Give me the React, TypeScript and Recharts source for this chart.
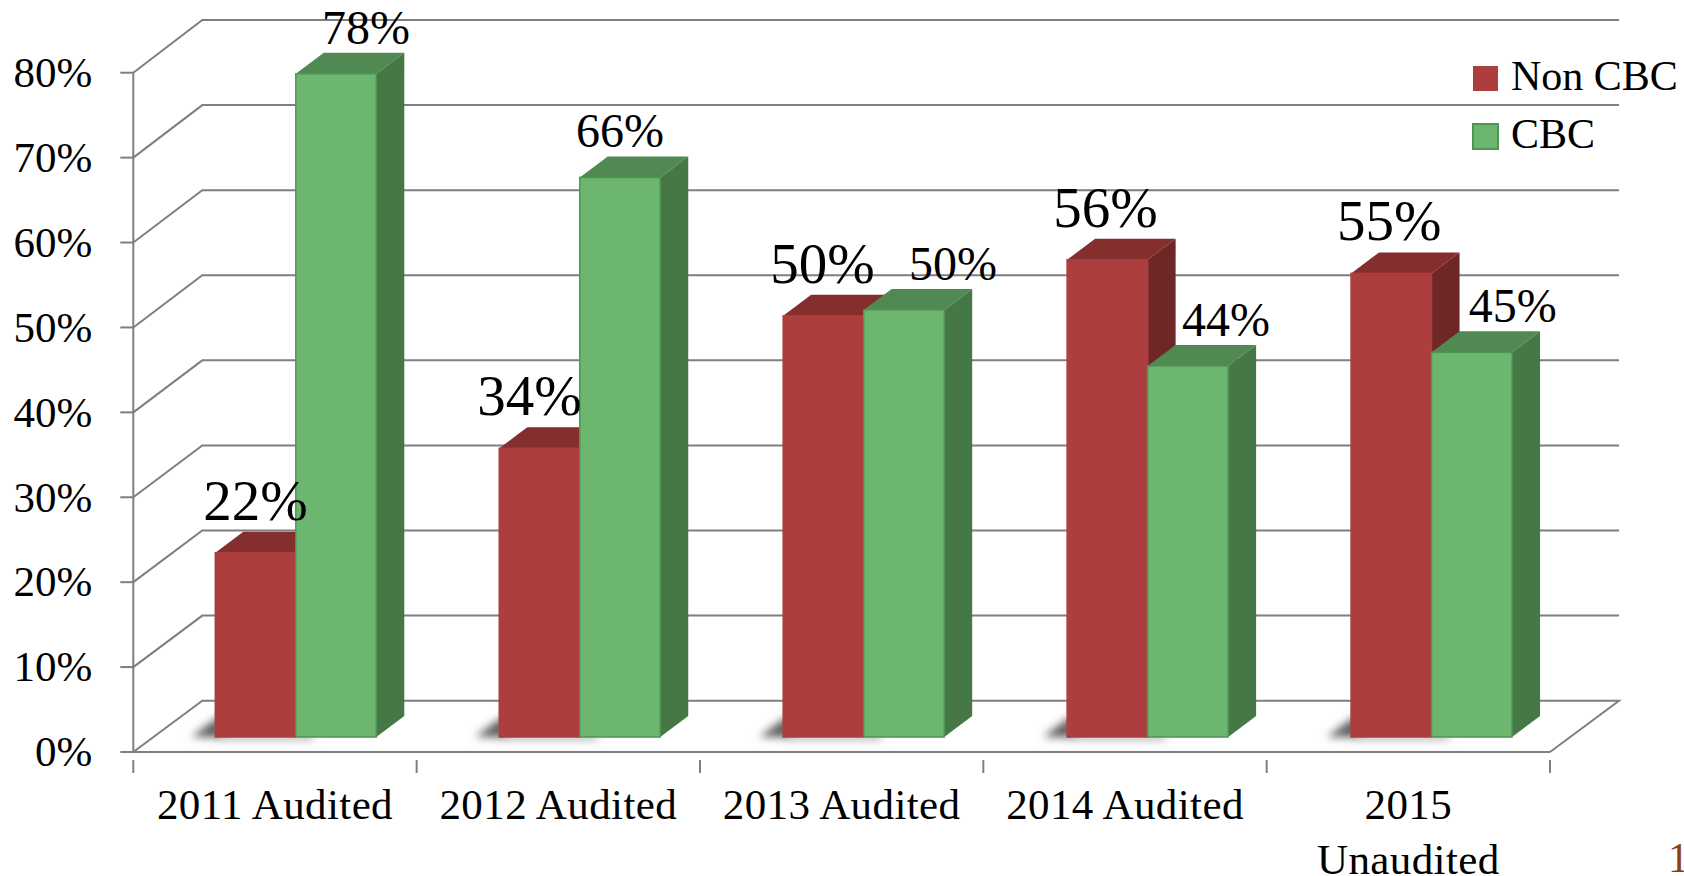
import React from "react";
import { BarChart, Bar, XAxis, YAxis, CartesianGrid, Legend, LabelList } from "recharts";

const categories = ["2011 Audited", "2012 Audited", "2013 Audited", "2014 Audited", "2015\nUnaudited"];
const nonCbc = [21.7, 34, 49.6, 56.2, 54.6];
const cbc = [78.1, 65.9, 50.3, 43.7, 45.3];
const yTicks = [0, 10, 20, 30, 40, 50, 60, 70, 80];
const nonCbcLabelShift = [0, -10, -1, -2, -2];
const cbcLabelShift = [30, 0, 49, 38, 41];

const rows = categories.map((category, i) => ({ category, nonCbc: nonCbc[i], cbc: cbc[i] }));

const FONT = "'Liberation Serif', serif";
const GRID = "#7f7f7f";
const BAND = 1416.7 / 5;
const WALL_X = 69;
const BAR_DY = -15;
const DEPTH_X = 28;
const DEPTH_Y = 21;

const barDx = (index: number) => 21 + index * 0.6;
const wallY = (y: number) => 51.3 + (752 - y) * 0.002;

const RED = { front: "#AD3E3E", top: "#852E2E", side: "#6E2626", edge: "#AD3E3E" };
const GREEN = { front: "#6DB66F", top: "#508A52", side: "#467846", edge: "#4F9556" };

function Box(props: any, c: typeof RED, shadow: boolean) {
  const x = props.x + barDx(props.index);
  const y = props.y + BAR_DY;
  const w = props.width;
  const h = props.height;
  const b = y + h;
  return (
    <g>
      {shadow && (
        <g filter="url(#footShadow)">
          <polygon points={`${x - 24},${b} ${x + 6},${b - 22} ${x + 6},${b}`} fill="#5a5a5a" />
          <rect x={x} y={b - 2} width={w + 18} height={4} fill="#8a8a8a" />
        </g>
      )}
      <polygon
        points={`${x},${y} ${x + DEPTH_X},${y - DEPTH_Y} ${x + w + DEPTH_X},${y - DEPTH_Y} ${x + w},${y}`}
        fill={c.top}
      />
      <polygon
        points={`${x + w},${y} ${x + w + DEPTH_X},${y - DEPTH_Y} ${x + w + DEPTH_X},${b - DEPTH_Y} ${x + w},${b}`}
        fill={c.side}
      />
      <rect x={x} y={y} width={w} height={h} fill={c.front} stroke={c.edge} strokeWidth={1.5} />
    </g>
  );
}

function gridLine(props: any) {
  const { x1, x2, y1 } = props;
  const isFloor = Math.abs(y1 - 752) < 1;
  const end = isFloor ? ` L${x2},${y1}` : "";
  const back = y1 - wallY(y1);
  return (
    <path
      key={`g-${y1}`}
      d={`M${x1},${y1} L${x1 + WALL_X},${back} L${x2 + WALL_X},${back}${end}`}
      fill="none"
      stroke={GRID}
      strokeWidth={2}
    />
  );
}

function CategoryTick(props: any) {
  const { x, y, payload, index } = props;
  const lines = String(payload.value).split("\n");
  const left = x - BAND / 2;
  return (
    <g>
      <line x1={left} x2={left} y1={y} y2={y + 13} stroke={GRID} strokeWidth={2} />
      {index === categories.length - 1 && (
        <line x1={left + BAND} x2={left + BAND} y1={y} y2={y + 13} stroke={GRID} strokeWidth={2} />
      )}
      {lines.map((line: string, i: number) => (
        <text key={line} x={x} y={819 + i * 55} textAnchor="middle" fontSize={43} letterSpacing={0.4} fontFamily={FONT} fill="#000">
          {line}
        </text>
      ))}
    </g>
  );
}

function redLabel(props: any) {
  const { x, y, width, value, index } = props;
  return (
    <text
      x={x + barDx(index) + width / 2 + nonCbcLabelShift[index]}
      y={y + BAR_DY - 33}
      textAnchor="middle"
      fontSize={57}
      fontFamily={FONT}
      fill="#000"
    >
      {Math.round(value)}%
    </text>
  );
}

function greenLabel(props: any) {
  const { x, y, width, value, index } = props;
  return (
    <text
      x={x + barDx(index) + width / 2 + cbcLabelShift[index]}
      y={y + BAR_DY - 30}
      textAnchor="middle"
      fontSize={48}
      fontFamily={FONT}
      fill="#000"
    >
      {Math.round(value)}%
    </text>
  );
}

function LegendBox(props: any) {
  const entries = props.payload || [];
  return (
    <div style={{ position: "relative", width: 212, height: 114, fontFamily: FONT, fontSize: 42, color: "#000" }}>
      {entries.map((e: any, i: number) => (
        <div key={e.value}>
          <div
            style={{
              position: "absolute",
              left: i === 0 ? 1 : 0,
              top: i === 0 ? 9 : 66,
              width: i === 0 ? 25 : 23,
              height: i === 0 ? 25 : 23,
              background: e.color,
              border: i === 0 ? "none" : `2px solid ${GREEN.edge}`,
            }}
          />
          <div style={{ position: "absolute", left: 39, top: i === 0 ? -9 : 49, lineHeight: "56px", whiteSpace: "nowrap" }}>
            {e.value}
          </div>
        </div>
      ))}
    </div>
  );
}

export default function App() {
  return (
    <div style={{ position: "absolute", left: 0, top: 0, width: 1684, height: 876, overflow: "hidden", background: "#fff" }}>
      <BarChart
        width={1684}
        height={876}
        data={rows}
        margin={{ top: 72.7, right: 134, bottom: 0, left: 0 }}
        barSize={80.5}
        barGap={0}
        barCategoryGap={0}
      >
        <defs>
          <filter id="footShadow" x="-30%" y="-80%" width="160%" height="260%">
            <feGaussianBlur stdDeviation="4.5" />
          </filter>
        </defs>
        <CartesianGrid vertical={false} horizontal={gridLine} />
        <XAxis
          dataKey="category"
          height={124}
          interval={0}
          axisLine={{ stroke: GRID, strokeWidth: 2 }}
          tickLine={false}
          tick={CategoryTick}
        />
        <YAxis
          width={133.3}
          domain={[0, 80]}
          ticks={yTicks}
          interval={0}
          axisLine={{ stroke: GRID, strokeWidth: 2 }}
          tickLine={{ stroke: GRID, strokeWidth: 2 }}
          tickSize={13}
          tickMargin={28}
          tickFormatter={(v: number) => `${v}%`}
          tick={{ fontSize: 43, fontFamily: FONT, fill: "#000", dy: -1 }}
        />
        <Legend
          layout="vertical"
          align="center"
          verticalAlign="middle"
          itemSorter={null}
          content={LegendBox}
          wrapperStyle={{ left: 1472, top: 57, width: 212, height: 114 }}
        />
        <Bar dataKey="nonCbc" name="Non CBC" fill={RED.front} isAnimationActive={false} shape={(p: any) => Box(p, RED, true)}>
          <LabelList dataKey="nonCbc" content={redLabel} />
        </Bar>
        <Bar dataKey="cbc" name="CBC" fill={GREEN.front} isAnimationActive={false} shape={(p: any) => Box(p, GREEN, false)}>
          <LabelList dataKey="cbc" content={greenLabel} />
        </Bar>
      </BarChart>
      <div style={{ position: "absolute", left: 1668, top: 830, fontFamily: FONT, fontSize: 42, lineHeight: "56px", color: "#8B3E12" }}>1</div>
    </div>
  );
}
